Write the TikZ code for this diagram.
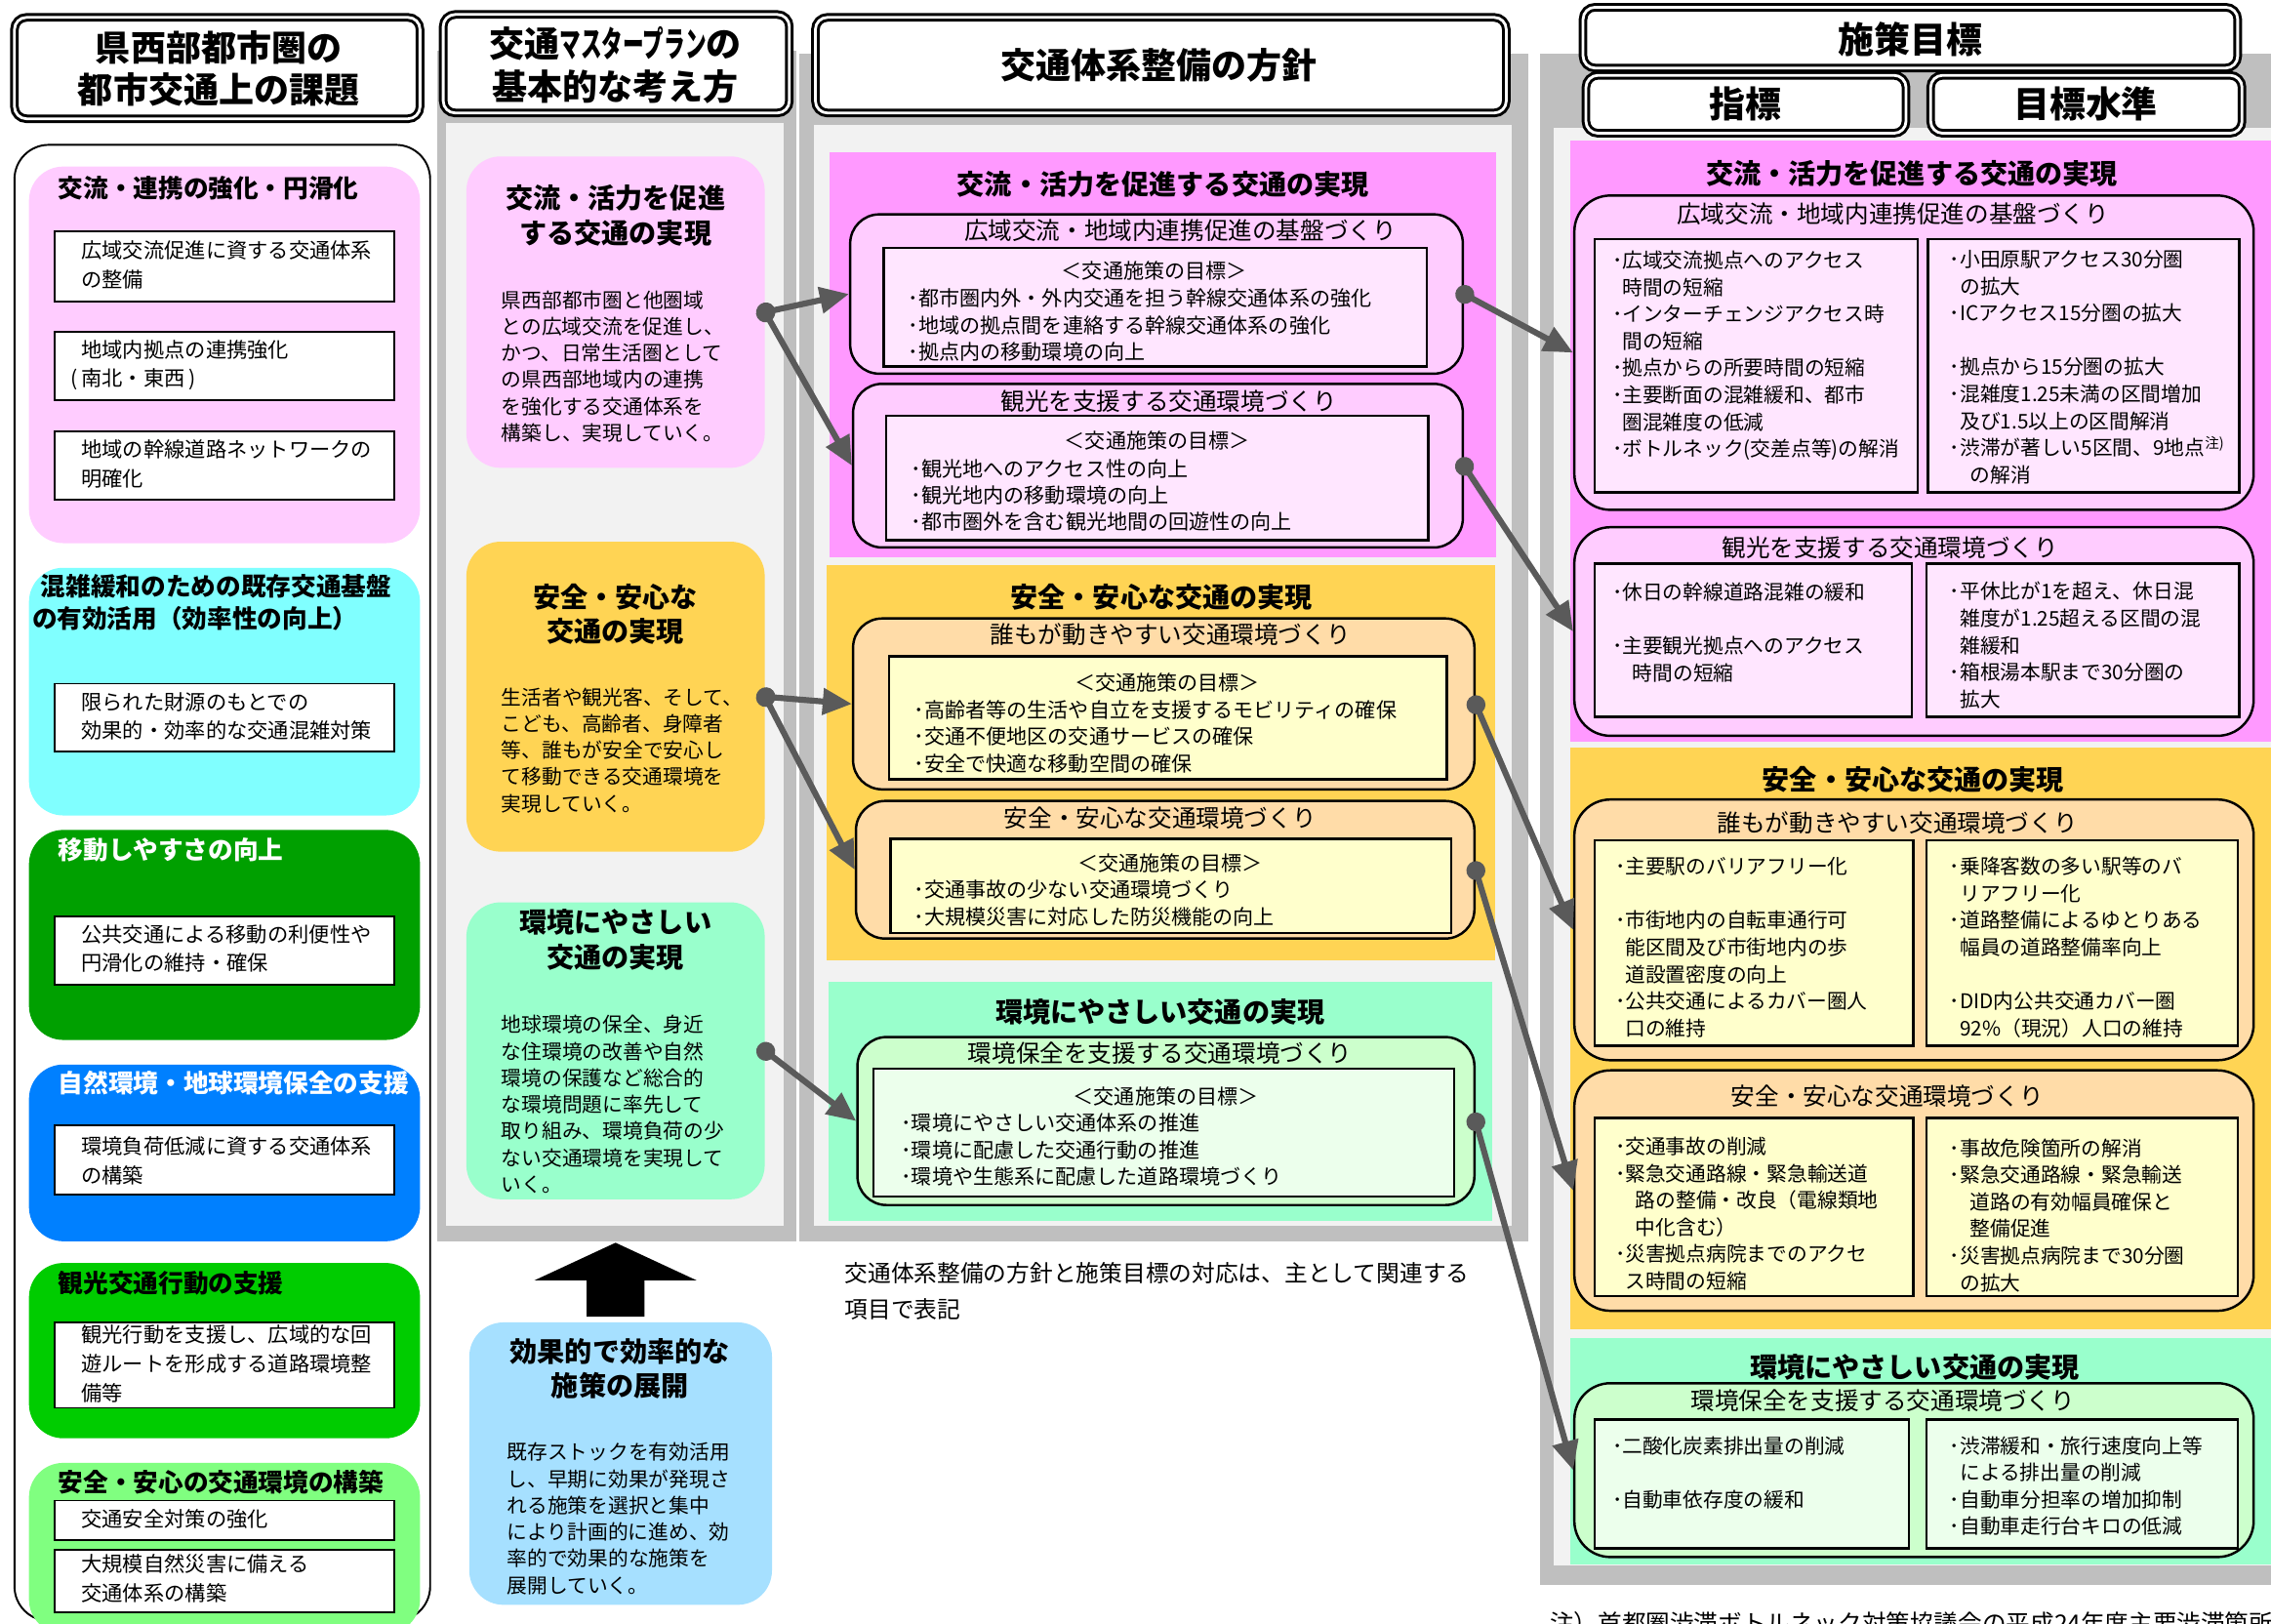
\documentclass[tikz,border=0pt]{standalone}
\usepackage{fontspec}
\setmainfont{Noto Sans CJK JP}
\usepackage{graphicx}
\usetikzlibrary{fit,arrows.meta}

\definecolor{framegray}{RGB}{191,191,191}
\definecolor{panelgray}{RGB}{242,242,242}
\definecolor{pinklt}{RGB}{255,204,255}
\definecolor{pinkmid}{RGB}{255,153,255}
\definecolor{pinkpale}{RGB}{255,230,255}
\definecolor{cyanlt}{RGB}{128,255,255}
\definecolor{greendk}{RGB}{0,160,0}
\definecolor{bluemid}{RGB}{0,128,255}
\definecolor{greenmid}{RGB}{0,204,0}
\definecolor{greenlt}{RGB}{128,255,128}
\definecolor{yellowsec}{RGB}{255,212,84}
\definecolor{peach}{RGB}{255,220,168}
\definecolor{creamlt}{RGB}{255,255,204}
\definecolor{mint}{RGB}{153,255,204}
\definecolor{mintsub}{RGB}{204,255,204}
\definecolor{mintpale}{RGB}{236,255,236}
\definecolor{skyblue}{RGB}{166,224,255}
\definecolor{linkgray}{RGB}{90,90,90}

\newcommand{\setfs}[2]{\fontsize{#1}{#2}\selectfont}
\newcommand{\gbul}{･}
\newcommand{\gind}{\phantom{･}}

\begin{document}
\begin{tikzpicture}[x=0.029682cm, y=-0.029682cm,
    headbox/.style={draw, line width=1.7pt, double=white, double distance=1.6pt, rounded corners=7pt, fill=white, inner sep=0pt},
    grayframe/.style={fill=framegray, inner sep=0pt},
    grayinner/.style={fill=panelgray, inner sep=0pt},
    issuebox/.style={rounded corners=20pt, inner sep=0pt},
    whitebox/.style={draw, line width=1.1pt, fill=white, inner sep=0pt},
    secbox/.style={inner sep=0pt},
    subbox/.style={draw, line width=1.4pt, rounded corners=17pt, inner sep=0pt},
    goalbox/.style={draw, line width=1.4pt, inner sep=0pt},
    headtxt/.style={font=\bfseries\setfs{20.5}{24.5}, align=center, inner sep=0pt},
    issuettl/.style={font=\bfseries\setfs{14.6}{18.6}, align=left, anchor=west, inner sep=0pt},
    issuetxt/.style={font=\setfs{12.1}{16.9}, align=left, anchor=west, inner sep=0pt},
    ideattl/.style={font=\bfseries\setfs{16}{20.3}, align=center, inner sep=0pt},
    ideatxt/.style={font=\setfs{11.8}{15.5}, align=left, anchor=west, inner sep=0pt},
    secttl/.style={font=\bfseries\setfs{16}{19}, inner sep=0pt},
    subttl/.style={font=\setfs{14}{17}, inner sep=0pt},
    itemtxt/.style={font=\setfs{12}{15.6}, align=left, anchor=west, inner sep=0pt},
    goaltxt/.style={font=\setfs{11.8}{15.7}, align=left, anchor=west, inner sep=0pt},
    linkarrow/.style={draw=linkgray, line width=3.5pt, shorten <=-5pt, {Circle[length=11pt]}-{Triangle[length=17pt,width=15pt]}}]

  \useasboundingbox (0,0) rectangle (1568,1121);

  % gray frames
  \node[grayframe, fit={(302,35) (550,857)}] (frIdea) {};
  \node[grayinner, fit={(308,85) (541,846)}] (inIdea) {};
  \node[grayframe, fit={(552,37) (1055,857)}] (frPolicy) {};
  \node[grayinner, fit={(562,86) (1044,846)}] (inPolicy) {};
  \node[grayframe, fit={(1063,37) (1575,1094)}] (frGoal) {};
  \node[grayinner, fit={(1073,88) (1575,1081)}] (inGoal) {};

  % headings
  \node[headbox, fit={(10,12) (290,82)}] (hdIssue) {};
  \node[headtxt] at (151,47.5) {県西部都市圏の\\都市交通上の課題};
  \node[headbox, fit={(306,10) (545,78)}] (hdIdea) {};
  \node[headtxt] at (425,45) {交通\scalebox{0.6}[1]{マスタープラン}の\\基本的な考え方};
  \node[headbox, fit={(563,12) (1040,78)}] (hdPolicy) {};
  \node[headtxt] at (800,45) {交通体系整備の方針};
  \node[headbox, fit={(1093,5) (1545,47)}] (hdGoal) {};
  \node[headtxt, font=\bfseries\setfs{21}{24}] at (1319,27) {施策目標};
  \node[headbox, fit={(1095,52) (1316,92)}] (hdIndex) {};
  \node[headtxt, font=\bfseries\setfs{21}{24}] at (1205,72) {指標};
  \node[headbox, fit={(1333,52) (1548,92)}] (hdLevel) {};
  \node[headtxt, font=\bfseries\setfs{21}{24}] at (1440,72) {目標水準};

  % issues
  \node[draw, line width=1.1pt, rounded corners=20pt, fill=white, inner sep=0pt, fit={(10,100) (297,1119)}] (issues) {};
  \node[issuebox, fill=pinklt, fit={(20,115) (290,375)}] (iss1) {};
  \node[issuettl] at (40,130) {交流・連携の強化・円滑化};
  \node[whitebox, fit={(38,160) (272,208)}] (iss1a) {};
  \node[issuetxt] at (56,183) {広域交流促進に資する交通体系\\の整備};
  \node[whitebox, fit={(38,229) (272,276)}] (iss1b) {};
  \node[issuetxt] at (56,252) {地域内拠点の連携強化\\\llap{(\,}南北・東西\,)};
  \node[whitebox, fit={(38,298) (272,345)}] (iss1c) {};
  \node[issuetxt] at (56,320.5) {地域の幹線道路ネットワークの\\明確化};

  \node[issuebox, fill=cyanlt, fit={(20,392) (290,563)}] (iss2) {};
  \node[issuettl] at (22,416) {\hspace*{5pt}混雑緩和のための既存交通基盤\\の有効活用（効率性の向上）};
  \node[whitebox, fit={(38,472) (272,519)}] (iss2a) {};
  \node[issuetxt] at (56,494.5) {限られた財源のもとでの\\効果的・効率的な交通混雑対策};

  \node[issuebox, fill=greendk, fit={(20,573) (290,718)}] (iss3) {};
  \node[issuettl, text=white] at (40,587) {移動しやすさの向上};
  \node[whitebox, fit={(38,633) (272,680)}] (iss3a) {};
  \node[issuetxt] at (56,655) {公共交通による移動の利便性や\\円滑化の維持・確保};

  \node[issuebox, fill=bluemid, fit={(20,735) (290,857)}] (iss4) {};
  \node[issuettl, text=white] at (40,748) {自然環境・地球環境保全の支援};
  \node[whitebox, fit={(38,777) (272,825)}] (iss4a) {};
  \node[issuetxt] at (56,801.5) {環境負荷低減に資する交通体系\\の構築};

  \node[issuebox, fill=greenmid, fit={(20,872) (290,993)}] (iss5) {};
  \node[issuettl] at (40,886) {観光交通行動の支援};
  \node[whitebox, fit={(38,913) (272,972)}] (iss5a) {};
  \node[issuetxt] at (56,941.5) {観光行動を支援し、広域的な回\\遊ルートを形成する道路環境整\\備等};

  \node[issuebox, fill=greenlt, fit={(20,1010) (290,1128)}] (iss6) {};
  \node[issuettl] at (40,1023) {安全・安心の交通環境の構築};
  \node[whitebox, fit={(38,1036) (272,1063)}] (iss6a) {};
  \node[issuetxt] at (56,1049) {交通安全対策の強化};
  \node[whitebox, fit={(38,1070) (272,1113)}] (iss6b) {};
  \node[issuetxt] at (56,1090) {大規模自然災害に備える\\交通体系の構築};

  % basic ideas
  \node[issuebox, fill=pinklt, fit={(322,108) (528,323)}] (ideaA) {};
  \node[ideattl] at (425,149) {交流・活力を促進\\する交通の実現};
  \node[ideatxt] at (346,253) {県西部都市圏と他圏域\\との広域交流を促進し、\\かつ、日常生活圏として\\の県西部地域内の連携\\を強化する交通体系を\\構築し、実現していく。};
  \node[issuebox, fill=yellowsec, fit={(322,374) (528,588)}] (ideaB) {};
  \node[ideattl] at (425,424) {安全・安心な\\交通の実現};
  \node[ideatxt] at (346,518) {生活者や観光客、そして、\\こども、高齢者、身障者\\等、誰もが安全で安心し\\て移動できる交通環境を\\実現していく。};
  \node[issuebox, fill=mint, fit={(322,623) (528,828)}] (ideaC) {};
  \node[ideattl] at (425,649) {環境にやさしい\\交通の実現};
  \node[ideatxt] at (346,762.5) {地球環境の保全、身近\\な住環境の改善や自然\\環境の保護など総合的\\な環境問題に率先して\\取り組み、環境負荷の少\\ない交通環境を実現して\\いく。};

  \fill (425,858) -- (481,884) -- (445,884) -- (445,909) -- (405,909) -- (405,884) -- (369,884) -- cycle;
  \node[issuebox, fill=skyblue, fit={(324,913) (533,1108)}] (ideaD) {};
  \node[ideattl] at (428,945) {効果的で効率的な\\施策の展開};
  \node[ideatxt] at (350,1048.5) {既存ストックを有効活用\\し、早期に効果が発現さ\\れる施策を選択と集中\\により計画的に進め、効\\率的で効果的な施策を\\展開していく。};

  % policies
  \node[secbox, fill=pinkmid, fit={(573,105) (1033,385)}] (secA) {};
  \node[secttl] at (803,127) {交流・活力を促進する交通の実現};
  \node[subbox, fill=pinklt, fit={(587,148) (1010,258)}] (polA1) {};
  \node[subttl] at (815,159) {広域交流・地域内連携促進の基盤づくり};
  \node[goalbox, fill=pinkpale, fit={(610,171) (985,253)}] (polA1in) {};
  \node[itemtxt, anchor=center] at (797,187) {＜交通施策の目標＞};
  \node[itemtxt] at (627,224.5) {\gbul 都市圏内外・外内交通を担う幹線交通体系の強化\\\gbul 地域の拠点間を連絡する幹線交通体系の強化\\\gbul 拠点内の移動環境の向上};
  \node[subbox, fill=pinklt, fit={(589,265) (1010,378)}] (polA2) {};
  \node[subttl] at (807,277) {観光を支援する交通環境づくり};
  \node[goalbox, fill=pinkpale, fit={(612,287) (986,373)}] (polA2in) {};
  \node[itemtxt, anchor=center] at (799,304) {＜交通施策の目標＞};
  \node[itemtxt] at (629,342) {\gbul 観光地へのアクセス性の向上\\\gbul 観光地内の移動環境の向上\\\gbul 都市圏外を含む観光地間の回遊性の向上};

  \node[secbox, fill=yellowsec, fit={(571,390) (1032,663)}] (secB) {};
  \node[secttl] at (802,412) {安全・安心な交通の実現};
  \node[subbox, fill=peach, fit={(589,427) (1018,545)}] (polB1) {};
  \node[subttl] at (808,438) {誰もが動きやすい交通環境づくり};
  \node[goalbox, fill=creamlt, fit={(614,453) (999,538)}] (polB1in) {};
  \node[itemtxt, anchor=center] at (806,471) {＜交通施策の目標＞};
  \node[itemtxt] at (631,508.5) {\gbul 高齢者等の生活や自立を支援するモビリティの確保\\\gbul 交通不便地区の交通サービスの確保\\\gbul 安全で快適な移動空間の確保};
  \node[subbox, fill=peach, fit={(591,553) (1018,648)}] (polB2) {};
  \node[subttl] at (801,565) {安全・安心な交通環境づくり};
  \node[goalbox, fill=creamlt, fit={(615,579) (1002,644)}] (polB2in) {};
  \node[itemtxt, anchor=center] at (808,596) {＜交通施策の目標＞};
  \node[itemtxt] at (631,623.5) {\gbul 交通事故の少ない交通環境づくり\\\gbul 大規模災害に対応した防災機能の向上};

  \node[secbox, fill=mint, fit={(572,678) (1030,843)}] (secC) {};
  \node[secttl] at (801,699) {環境にやさしい交通の実現};
  \node[subbox, fill=mintsub, fit={(592,716) (1018,832)}] (polC1) {};
  \node[subttl] at (801,727) {環境保全を支援する交通環境づくり};
  \node[goalbox, fill=mintpale, fit={(603,738) (1004,826)}] (polC1in) {};
  \node[itemtxt, anchor=center] at (805,757) {＜交通施策の目標＞};
  \node[itemtxt] at (622,794) {\gbul 環境にやさしい交通体系の推進\\\gbul 環境に配慮した交通行動の推進\\\gbul 環境や生態系に配慮した道路環境づくり};

  \node[itemtxt, font=\setfs{13.5}{21.1}] (note) at (583,891.5) {交通体系整備の方針と施策目標の対応は、主として関連する\\項目で表記};

  % goals
  \node[secbox, fill=pinkmid, fit={(1084,97) (1575,512)}] (gsecA) {};
  \node[secttl] at (1320,120) {交流・活力を促進する交通の実現};
  \node[subbox, fill=pinklt, rounded corners=21pt, fit={(1087,135) (1556,352)}] (goalA1) {};
  \node[subttl] at (1307,148) {広域交流・地域内連携促進の基盤づくり};
  \node[goalbox, fill=pinkpale, fit={(1101,165) (1324,340)}] (goalA1l) {};
  \node[goalbox, fill=pinkpale, fit={(1331,165) (1546,340)}] (goalA1r) {};
  \node[goaltxt] at (1113,245.5) {\gbul 広域交流拠点へのアクセス\\\gind 時間の短縮\\\gbul インターチェンジアクセス時\\\gind 間の短縮\\\gbul 拠点からの所要時間の短縮\\\gbul 主要断面の混雑緩和、都市\\\gind 圏混雑度の低減\\\gbul ボトルネック(交差点等)の解消};
  \node[goaltxt] at (1346,253.5) {\gbul 小田原駅アクセス30分圏\\\gind の拡大\\\gbul ICアクセス15分圏の拡大\\\mbox{}\\\gbul 拠点から15分圏の拡大\\\gbul 混雑度1.25未満の区間増加\\\gind 及び1.5以上の区間解消\\\gbul 渋滞が著しい5区間、9地点\textsuperscript{注)}\\\gind\hspace{0.5em}の解消};
  \node[subbox, fill=pinklt, rounded corners=21pt, fit={(1087,364) (1556,508)}] (goalA2) {};
  \node[subttl] at (1305,378) {観光を支援する交通環境づくり};
  \node[goalbox, fill=pinkpale, fit={(1101,389) (1320,495)}] (goalA2l) {};
  \node[goalbox, fill=pinkpale, fit={(1330,389) (1546,495)}] (goalA2r) {};
  \node[goaltxt] at (1113,436.5) {\gbul 休日の幹線道路混雑の緩和\\\mbox{}\\\gbul 主要観光拠点へのアクセス\\\gind\hspace{0.5em}時間の短縮};
  \node[goaltxt] at (1346,445.5) {\gbul 平休比が1を超え、休日混\\\gind 雑度が1.25超える区間の混\\\gind 雑緩和\\\gbul 箱根湯本駅まで30分圏の\\\gind 拡大};

  \node[secbox, fill=yellowsec, fit={(1084,516) (1575,918)}] (gsecB) {};
  \node[secttl] at (1321,538) {安全・安心な交通の実現};
  \node[subbox, fill=peach, rounded corners=21pt, fit={(1087,552) (1556,732)}] (goalB1) {};
  \node[subttl] at (1310,568) {誰もが動きやすい交通環境づくり};
  \node[goalbox, fill=creamlt, fit={(1101,580) (1321,722)}] (goalB1l) {};
  \node[goalbox, fill=creamlt, fit={(1330,580) (1545,722)}] (goalB1r) {};
  \node[goaltxt] at (1115,654) {\gbul 主要駅のバリアフリー化\\\mbox{}\\\gbul 市街地内の自転車通行可\\\gind 能区間及び市街地内の歩\\\gind 道設置密度の向上\\\gbul 公共交通によるカバー圏人\\\gind 口の維持};
  \node[goaltxt] at (1346,654) {\gbul 乗降客数の多い駅等のバ\\\gind リアフリー化\\\gbul 道路整備によるゆとりある\\\gind 幅員の道路整備率向上\\\mbox{}\\\gbul DID内公共交通カバー圏\\\gind 92\%（現況）人口の維持};
  \node[subbox, fill=peach, rounded corners=21pt, fit={(1087,739) (1556,905)}] (goalB2) {};
  \node[subttl] at (1303,757) {安全・安心な交通環境づくり};
  \node[goalbox, fill=creamlt, fit={(1101,772) (1321,895)}] (goalB2l) {};
  \node[goalbox, fill=creamlt, fit={(1330,772) (1545,895)}] (goalB2r) {};
  \node[goaltxt] at (1115,838) {\gbul 交通事故の削減\\\gbul 緊急交通路線・緊急輸送道\\\gind\hspace{0.5em}路の整備・改良（電線類地\\\gind\hspace{0.5em}中化含む）\\\gbul 災害拠点病院までのアクセ\\\gind ス時間の短縮};
  \node[goaltxt] at (1346,839) {\gbul 事故危険箇所の解消\\\gbul 緊急交通路線・緊急輸送\\\gind\hspace{0.5em}道路の有効幅員確保と\\\gind\hspace{0.5em}整備促進\\\gbul 災害拠点病院まで30分圏\\\gind の拡大};

  \node[secbox, fill=mint, fit={(1084,924) (1575,1080)}] (gsecC) {};
  \node[secttl] at (1322,944) {環境にやさしい交通の実現};
  \node[subbox, fill=mintsub, rounded corners=21pt, fit={(1087,955) (1556,1075)}] (goalC1) {};
  \node[subttl] at (1300,967) {環境保全を支援する交通環境づくり};
  \node[goalbox, fill=mintpale, fit={(1101,980) (1318,1069)}] (goalC1l) {};
  \node[goalbox, fill=mintpale, fit={(1330,980) (1545,1069)}] (goalC1r) {};
  \node[goaltxt] at (1113,1017) {\gbul 二酸化炭素排出量の削減\\\mbox{}\\\gbul 自動車依存度の緩和};
  \node[goaltxt] at (1346,1026) {\gbul 渋滞緩和・旅行速度向上等\\\gind による排出量の削減\\\gbul 自動車分担率の増加抑制\\\gbul 自動車走行台キロの低減};

  \node[itemtxt, font=\setfs{14}{17}] (footnote) at (1070,1121) {注）首都圏渋滞ボトルネック対策協議会の平成24年度主要渋滞箇所数};

  % links
  \draw[linkarrow] (ideaA.east) -- (polA1.west);
  \draw[linkarrow] (ideaA.east) -- (polA2.west);
  \draw[linkarrow] (ideaB.east) -- (polB1.west);
  \draw[linkarrow] (ideaB.east) -- (polB2.west);
  \draw[linkarrow] (ideaC.east) -- (polC1.west);
  \draw[linkarrow] (polA1.east) -- (goalA1.west);
  \draw[linkarrow] (polA2.east) -- (goalA2.west);
  \draw[linkarrow] (polB1.east) -- (goalB1.west);
  \draw[linkarrow] (polB2.east) -- (goalB2.west);
  \draw[linkarrow] (polC1.east) -- (goalC1.west);
\end{tikzpicture}
\end{document}
